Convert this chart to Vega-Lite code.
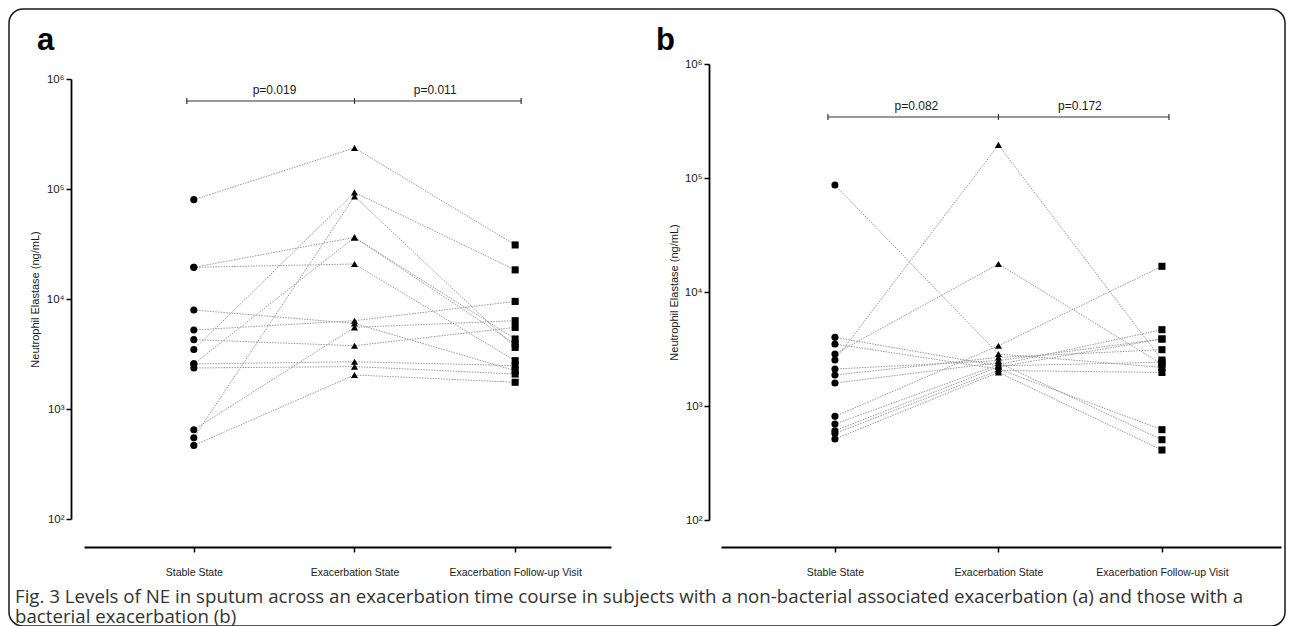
{
  "$schema": "https://vega.github.io/schema/vega-lite/v6.json",
  "background": "white",
  "padding": {"left": 8, "top": 8, "right": 0, "bottom": 0},
  "config": {
    "view": {"stroke": null},
    "font": "Liberation Sans",
    "axis": {"labelFont": "Liberation Sans", "titleFont": "Liberation Sans", "labelColor": "#1a1a1a", "titleColor": "#1a1a1a", "domainColor": "#000", "tickColor": "#000", "grid": false}
  },
  "datasets": {
    "a": [
      {"subject": 1, "stage": "Stable State", "ne": 80000}, {"subject": 1, "stage": "Exacerbation State", "ne": 236000}, {"subject": 1, "stage": "Exacerbation Follow-up Visit", "ne": 31000},
      {"subject": 2, "stage": "Stable State", "ne": 19400}, {"subject": 2, "stage": "Exacerbation State", "ne": 36300}, {"subject": 2, "stage": "Exacerbation Follow-up Visit", "ne": 3900},
      {"subject": 3, "stage": "Stable State", "ne": 19400}, {"subject": 3, "stage": "Exacerbation State", "ne": 20800}, {"subject": 3, "stage": "Exacerbation Follow-up Visit", "ne": 2750},
      {"subject": 4, "stage": "Stable State", "ne": 7940}, {"subject": 4, "stage": "Exacerbation State", "ne": 6000}, {"subject": 4, "stage": "Exacerbation Follow-up Visit", "ne": 2230},
      {"subject": 5, "stage": "Stable State", "ne": 5230}, {"subject": 5, "stage": "Exacerbation State", "ne": 6350}, {"subject": 5, "stage": "Exacerbation Follow-up Visit", "ne": 9510},
      {"subject": 6, "stage": "Stable State", "ne": 4270}, {"subject": 6, "stage": "Exacerbation State", "ne": 3760}, {"subject": 6, "stage": "Exacerbation Follow-up Visit", "ne": 5520},
      {"subject": 7, "stage": "Stable State", "ne": 3480}, {"subject": 7, "stage": "Exacerbation State", "ne": 93100}, {"subject": 7, "stage": "Exacerbation Follow-up Visit", "ne": 18400},
      {"subject": 8, "stage": "Stable State", "ne": 2570}, {"subject": 8, "stage": "Exacerbation State", "ne": 36300}, {"subject": 8, "stage": "Exacerbation Follow-up Visit", "ne": 4330},
      {"subject": 9, "stage": "Stable State", "ne": 2570}, {"subject": 9, "stage": "Exacerbation State", "ne": 2690}, {"subject": 9, "stage": "Exacerbation Follow-up Visit", "ne": 2480},
      {"subject": 10, "stage": "Stable State", "ne": 2360}, {"subject": 10, "stage": "Exacerbation State", "ne": 2430}, {"subject": 10, "stage": "Exacerbation Follow-up Visit", "ne": 2080},
      {"subject": 11, "stage": "Stable State", "ne": 648}, {"subject": 11, "stage": "Exacerbation State", "ne": 5520}, {"subject": 11, "stage": "Exacerbation Follow-up Visit", "ne": 6350},
      {"subject": 12, "stage": "Stable State", "ne": 548}, {"subject": 12, "stage": "Exacerbation State", "ne": 85700}, {"subject": 12, "stage": "Exacerbation Follow-up Visit", "ne": 3630},
      {"subject": 13, "stage": "Stable State", "ne": 467}, {"subject": 13, "stage": "Exacerbation State", "ne": 2040}, {"subject": 13, "stage": "Exacerbation Follow-up Visit", "ne": 1750}
    ],
    "b": [
      {"subject": 1, "stage": "Stable State", "ne": 86900}, {"subject": 1, "stage": "Exacerbation State", "ne": 2860}, {"subject": 1, "stage": "Exacerbation Follow-up Visit", "ne": 2180},
      {"subject": 2, "stage": "Stable State", "ne": 2530}, {"subject": 2, "stage": "Exacerbation State", "ne": 195000}, {"subject": 2, "stage": "Exacerbation Follow-up Visit", "ne": 2530},
      {"subject": 3, "stage": "Stable State", "ne": 2860}, {"subject": 3, "stage": "Exacerbation State", "ne": 17600}, {"subject": 3, "stage": "Exacerbation Follow-up Visit", "ne": 2330},
      {"subject": 4, "stage": "Stable State", "ne": 4000}, {"subject": 4, "stage": "Exacerbation State", "ne": 2250}, {"subject": 4, "stage": "Exacerbation Follow-up Visit", "ne": 2420},
      {"subject": 5, "stage": "Stable State", "ne": 3500}, {"subject": 5, "stage": "Exacerbation State", "ne": 2110}, {"subject": 5, "stage": "Exacerbation Follow-up Visit", "ne": 620},
      {"subject": 6, "stage": "Stable State", "ne": 2110}, {"subject": 6, "stage": "Exacerbation State", "ne": 2500}, {"subject": 6, "stage": "Exacerbation Follow-up Visit", "ne": 3870},
      {"subject": 7, "stage": "Stable State", "ne": 1870}, {"subject": 7, "stage": "Exacerbation State", "ne": 2670}, {"subject": 7, "stage": "Exacerbation Follow-up Visit", "ne": 3120},
      {"subject": 8, "stage": "Stable State", "ne": 1590}, {"subject": 8, "stage": "Exacerbation State", "ne": 2400}, {"subject": 8, "stage": "Exacerbation Follow-up Visit", "ne": 506},
      {"subject": 9, "stage": "Stable State", "ne": 811}, {"subject": 9, "stage": "Exacerbation State", "ne": 3380}, {"subject": 9, "stage": "Exacerbation Follow-up Visit", "ne": 16800},
      {"subject": 10, "stage": "Stable State", "ne": 695}, {"subject": 10, "stage": "Exacerbation State", "ne": 2300}, {"subject": 10, "stage": "Exacerbation Follow-up Visit", "ne": 4670},
      {"subject": 11, "stage": "Stable State", "ne": 607}, {"subject": 11, "stage": "Exacerbation State", "ne": 2200}, {"subject": 11, "stage": "Exacerbation Follow-up Visit", "ne": 3870},
      {"subject": 12, "stage": "Stable State", "ne": 575}, {"subject": 12, "stage": "Exacerbation State", "ne": 2050}, {"subject": 12, "stage": "Exacerbation Follow-up Visit", "ne": 1970},
      {"subject": 13, "stage": "Stable State", "ne": 514}, {"subject": 13, "stage": "Exacerbation State", "ne": 1970}, {"subject": 13, "stage": "Exacerbation Follow-up Visit", "ne": 411}
    ]
  },
  "concat": [
    {
      "width": 1276,
      "height": 617,
      "view": {"stroke": "#1a1a1a", "strokeWidth": 1.5, "cornerRadius": 14, "fill": null},
      "data": {"values": [{"t": ""}]},
      "mark": {"type": "text"},
      "encoding": {"text": {"field": "t", "type": "nominal"}},
      "title": {
        "text": ["Fig. 3 Levels of NE in sputum across an exacerbation time course in subjects with a non-bacterial associated exacerbation (a) and those with a", "bacterial exacerbation (b)"],
        "orient": "bottom", "anchor": "start", "frame": "group", "offset": -38, "dx": 6,
        "baseline": "top", "font": "Open Sans", "fontSize": 18.7, "fontWeight": "normal", "color": "#333", "lineHeight": 19.5
      }
    },
    {
      "spacing": 45,
      "hconcat": [
        {
          "width": 527,
          "height": 511,
          "title": {"text": "a", "anchor": "start", "frame": "group", "orient": "top", "offset": -72, "dx": -47, "baseline": "alphabetic", "fontSize": 31, "fontWeight": "bold", "font": "Liberation Sans", "color": "#000"},
          "layer": [
            {
              "data": {"name": "a"},
              "mark": {"type": "line", "color": "#999", "strokeWidth": 1, "strokeDash": [1.5, 1.2]},
              "encoding": {
                "x": {"field": "stage", "type": "nominal",
                  "scale": {"type": "point", "domain": ["Stable State", "Exacerbation State", "Exacerbation Follow-up Visit"], "padding": 0.64, "align": 0.534},
                  "axis": {"title": null, "offset": 27, "domainWidth": 2, "tickWidth": 1.5, "tickSize": 5, "labelFontSize": 10.5, "labelPadding": 15, "labelAngle": 0, "labelOverlap": false}},
                "y": {"field": "ne", "type": "quantitative",
                  "scale": {"type": "log", "domain": [100, 1000000], "range": [510, 70], "nice": false},
                  "axis": {"values": [100, 1000, 10000, 100000, 1000000],
                    "labelExpr": "datum.value >= 999999 ? '10⁶' : datum.value >= 99999 ? '10⁵' : datum.value >= 9999 ? '10⁴' : datum.value >= 999 ? '10³' : '10²'",
                    "offset": 13, "domainWidth": 1.8, "tickWidth": 1.5, "tickSize": 5, "labelFontSize": 11.5, "labelPadding": 2,
                    "title": "Neutrophil Elastase (ng/mL)", "titleFontSize": 11, "titleFontWeight": "normal", "titlePadding": 6,
                    "labelFlush": false, "labelOverlap": false}},
                "detail": {"field": "subject", "type": "nominal"}
              }
            },
            {
              "data": {"name": "a"},
              "mark": {"type": "point", "filled": true, "color": "#000", "opacity": 1, "size": 50},
              "encoding": {
                "x": {"field": "stage", "type": "nominal", "scale": {"domain": ["Stable State", "Exacerbation State", "Exacerbation Follow-up Visit"]}},
                "y": {"field": "ne", "type": "quantitative"},
                "shape": {"field": "stage", "type": "nominal", "scale": {"domain": ["Stable State", "Exacerbation State", "Exacerbation Follow-up Visit"], "range": ["circle", "triangle-up", "square"]}, "legend": null}
              }
            },
            {
              "data": {"values": [{}]},
              "mark": {"type": "rule", "color": "#333", "strokeWidth": 1.2, "xOffset": -7, "x2Offset": 6},
              "encoding": {"x": {"datum": "Stable State"}, "x2": {"datum": "Exacerbation Follow-up Visit"}, "y": {"datum": 631000}}
            },
            {
              "data": {"values": [{}]},
              "mark": {"type": "rule", "color": "#333", "strokeWidth": 1.2, "xOffset": -7},
              "encoding": {"x": {"datum": "Stable State"}, "y": {"datum": 672000}, "y2": {"datum": 593000}}
            },
            {
              "data": {"values": [{}]},
              "mark": {"type": "rule", "color": "#333", "strokeWidth": 1.2},
              "encoding": {"x": {"datum": "Exacerbation State"}, "y": {"datum": 672000}, "y2": {"datum": 593000}}
            },
            {
              "data": {"values": [{}]},
              "mark": {"type": "rule", "color": "#333", "strokeWidth": 1.2, "xOffset": 6},
              "encoding": {"x": {"datum": "Exacerbation Follow-up Visit"}, "y": {"datum": 672000}, "y2": {"datum": 593000}}
            },
            {
              "data": {"values": [{"to": "Exacerbation State", "p": "p=0.019"}, {"to": "Exacerbation Follow-up Visit", "p": "p=0.011"}]},
              "mark": {"type": "text", "dx": -80, "dy": -4, "baseline": "bottom", "fontSize": 12, "color": "#1a1a1a"},
              "encoding": {
                "x": {"field": "to", "type": "nominal", "scale": {"domain": ["Stable State", "Exacerbation State", "Exacerbation Follow-up Visit"]}},
                "y": {"datum": 631000},
                "text": {"field": "p", "type": "nominal"}
              }
            }
          ]
        },
        {
          "width": 560,
          "height": 511,
          "title": {"text": "b", "anchor": "start", "frame": "group", "orient": "top", "offset": -72, "dx": -65, "baseline": "alphabetic", "fontSize": 31, "fontWeight": "bold", "font": "Liberation Sans", "color": "#000"},
          "layer": [
            {
              "data": {"name": "b"},
              "mark": {"type": "line", "color": "#999", "strokeWidth": 1, "strokeDash": [1.5, 1.2]},
              "encoding": {
                "x": {"field": "stage", "type": "nominal",
                  "scale": {"type": "point", "domain": ["Stable State", "Exacerbation State", "Exacerbation Follow-up Visit"], "padding": 0.7125, "align": 0.489},
                  "axis": {"title": null, "offset": 27, "domainWidth": 2, "tickWidth": 1.5, "tickSize": 5, "labelFontSize": 10.5, "labelPadding": 15, "labelAngle": 0, "labelOverlap": false}},
                "y": {"field": "ne", "type": "quantitative",
                  "scale": {"type": "log", "domain": [100, 1000000], "range": [511, 55], "nice": false},
                  "axis": {"values": [100, 1000, 10000, 100000, 1000000],
                    "labelExpr": "datum.value >= 999999 ? '10⁶' : datum.value >= 99999 ? '10⁵' : datum.value >= 9999 ? '10⁴' : datum.value >= 999 ? '10³' : '10²'",
                    "offset": 12, "domainWidth": 1.8, "tickWidth": 1.5, "tickSize": 5, "labelFontSize": 11.5, "labelPadding": 2,
                    "title": "Neutrophil Elastase (ng/mL)", "titleFontSize": 11, "titleFontWeight": "normal", "titlePadding": 5,
                    "labelFlush": false, "labelOverlap": false}},
                "detail": {"field": "subject", "type": "nominal"}
              }
            },
            {
              "data": {"name": "b"},
              "mark": {"type": "point", "filled": true, "color": "#000", "opacity": 1, "size": 50},
              "encoding": {
                "x": {"field": "stage", "type": "nominal", "scale": {"domain": ["Stable State", "Exacerbation State", "Exacerbation Follow-up Visit"]}},
                "y": {"field": "ne", "type": "quantitative"},
                "shape": {"field": "stage", "type": "nominal", "scale": {"domain": ["Stable State", "Exacerbation State", "Exacerbation Follow-up Visit"], "range": ["circle", "triangle-up", "square"]}, "legend": null}
              }
            },
            {
              "data": {"values": [{}]},
              "mark": {"type": "rule", "color": "#333", "strokeWidth": 1.2, "xOffset": -7, "x2Offset": 7},
              "encoding": {"x": {"datum": "Stable State"}, "x2": {"datum": "Exacerbation Follow-up Visit"}, "y": {"datum": 343000}}
            },
            {
              "data": {"values": [{}]},
              "mark": {"type": "rule", "color": "#333", "strokeWidth": 1.2, "xOffset": -7},
              "encoding": {"x": {"datum": "Stable State"}, "y": {"datum": 364000}, "y2": {"datum": 323000}}
            },
            {
              "data": {"values": [{}]},
              "mark": {"type": "rule", "color": "#333", "strokeWidth": 1.2},
              "encoding": {"x": {"datum": "Exacerbation State"}, "y": {"datum": 364000}, "y2": {"datum": 323000}}
            },
            {
              "data": {"values": [{}]},
              "mark": {"type": "rule", "color": "#333", "strokeWidth": 1.2, "xOffset": 7},
              "encoding": {"x": {"datum": "Exacerbation Follow-up Visit"}, "y": {"datum": 364000}, "y2": {"datum": 323000}}
            },
            {
              "data": {"values": [{"to": "Exacerbation State", "p": "p=0.082"}, {"to": "Exacerbation Follow-up Visit", "p": "p=0.172"}]},
              "mark": {"type": "text", "dx": -82, "dy": -4, "baseline": "bottom", "fontSize": 12, "color": "#1a1a1a"},
              "encoding": {
                "x": {"field": "to", "type": "nominal", "scale": {"domain": ["Stable State", "Exacerbation State", "Exacerbation Follow-up Visit"]}},
                "y": {"datum": 343000},
                "text": {"field": "p", "type": "nominal"}
              }
            }
          ]
        }
      ]
    }
  ],
  "columns": 2,
  "align": "none",
  "spacing": -1257
}
